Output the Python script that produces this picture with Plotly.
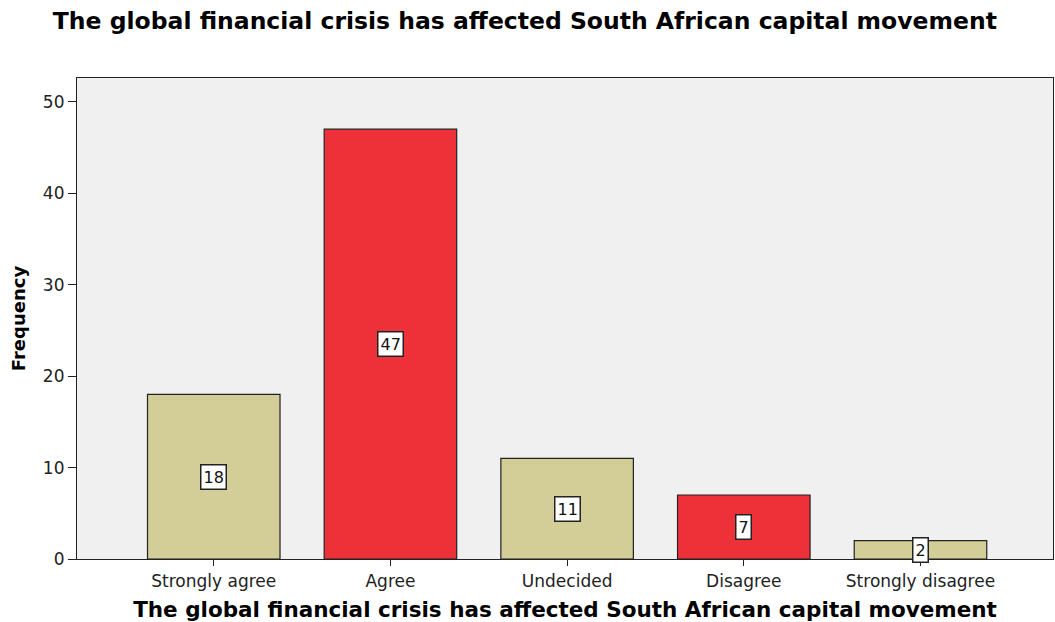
import plotly.graph_objects as go

# Survey responses: "The global financial crisis has affected South African capital movement"
categories = ["Strongly agree", "Agree", "Undecided", "Disagree", "Strongly disagree"]
frequencies = [18, 47, 11, 7, 2]
bar_colors = ["#D3CE97", "#EE3039", "#D3CE97", "#EE3039", "#D3CE97"]
y_ticks = [0, 10, 20, 30, 40, 50]

title_text = "The global financial crisis has affected South African capital movement"

fig = go.Figure(
    go.Bar(
        x=categories,
        y=frequencies,
        marker=dict(color=bar_colors, line=dict(color="#222222", width=1.2)),
        width=0.75,
        hoverinfo="x+y",
    )
)

# Value labels in white boxes at the middle of each bar
for cat, val in zip(categories, frequencies):
    fig.add_annotation(
        x=cat, y=val / 2, text=str(val), showarrow=False,
        font=dict(family="DejaVu Sans", size=16, color="#111111"),
        bgcolor="white", bordercolor="#222222", borderwidth=1.5, borderpad=2,
    )

fig.update_layout(
    width=1055, height=622,
    margin=dict(l=77, r=2, t=78, b=63),
    paper_bgcolor="white",
    plot_bgcolor="#F0F0F0",
    showlegend=False,
    title=dict(
        text=title_text, x=0.4975, xanchor="center", y=0.967, yanchor="middle",
        font=dict(family="DejaVu Sans", size=23.5, color="black", weight="bold"),
    ),
    xaxis=dict(
        range=[-0.774, 4.75],
        showline=True, linecolor="#222222", linewidth=1.2, mirror=True,
        ticks="outside", ticklen=6, tickcolor="#222222",
        showgrid=False,
        tickfont=dict(family="DejaVu Sans", size=17, color="#222222"),
        title=dict(
            text=title_text, standoff=12,
            font=dict(family="DejaVu Sans", size=21.5, color="black", weight="bold"),
        ),
    ),
    yaxis=dict(
        range=[0, 52.6], tickvals=y_ticks,
        showline=True, linecolor="#222222", linewidth=1.2, mirror=True,
        ticks="outside", ticklen=8, tickcolor="#222222",
        showgrid=False, zeroline=False,
        tickfont=dict(family="DejaVu Sans", size=17, color="#222222"),
        title=dict(
            text="Frequency", standoff=12,
            font=dict(family="DejaVu Sans", size=18, color="black", weight="bold"),
        ),
    ),
)

fig.write_html("out.html")
